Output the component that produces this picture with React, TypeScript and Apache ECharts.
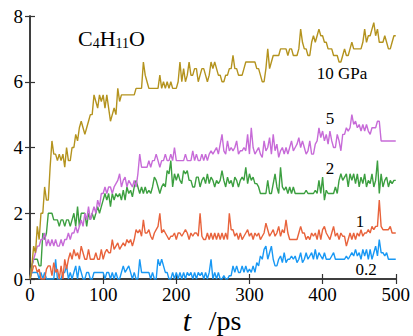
import React, { useEffect, useRef } from "react";
import * as echarts from "echarts";

const STEP_PS = 2.5;

const p10 = [
  0, 0.4, 1.0, 0.8, 1.6, 1.2, 2.0, 2.0, 2.8, 2.4,
  2.4, 3.4, 4.2, 3.8, 3.8, 3.6, 3.8, 3.6, 3.8, 3.4,
  4.0, 3.6, 3.6, 4.0, 4.0, 4.4, 4.2, 4.6, 4.8, 4.6,
  4.4, 4.6, 4.8, 5.0, 5.0, 5.6, 5.4, 5.2, 5.6, 5.4,
  5.6, 5.2, 5.6, 5.2, 4.8, 5.0, 5.2, 5.0, 5.8, 5.4,
  5.6, 5.6, 5.6, 5.6, 5.6, 5.6, 5.6, 5.6, 5.8, 5.8,
  5.8, 5.8, 6.6, 6.2, 6.0, 5.8, 5.8, 5.8, 5.8, 5.8,
  5.8, 6.2, 5.8, 6.0, 5.8, 6.0, 5.8, 6.0, 5.8, 5.8,
  5.8, 6.0, 6.6, 6.0, 6.4, 6.0, 6.2, 6.6, 6.2, 6.2,
  6.4, 6.4, 6.0, 6.2, 6.4, 6.4, 6.2, 6.0, 6.2, 6.6,
  6.4, 6.6, 6.4, 6.2, 6.2, 6.0, 6.0, 6.2, 6.2, 6.4,
  6.4, 6.8, 6.4, 6.4, 6.2, 6.2, 6.2, 6.4, 6.6, 6.6,
  6.6, 6.6, 6.6, 6.6, 6.4, 6.4, 6.2, 6.0, 6.0, 6.4,
  7.0, 6.4, 6.6, 6.8, 6.8, 6.8, 6.8, 7.0, 7.0, 7.0,
  7.0, 6.8, 7.0, 7.0, 6.8, 6.8, 6.8, 7.0, 7.6, 7.2,
  7.0, 7.0, 6.8, 6.8, 7.2, 7.4, 7.2, 7.4, 7.6, 7.4,
  7.4, 7.2, 7.2, 7.0, 7.0, 7.0, 6.8, 6.8, 6.8, 6.6,
  6.6, 6.8, 7.0, 6.8, 6.8, 7.0, 7.2, 7.0, 7.0, 7.0,
  7.0, 7.0, 7.2, 7.6, 7.2, 7.4, 7.4, 7.6, 7.8, 7.4,
  7.6, 7.2, 7.2, 7.2, 7.4, 7.2, 7.0, 7.0, 7.2, 7.4,
  7.4,
];

const p5 = [
  0, 0.4, 0.6, 0.8, 1.0, 1.0, 1.2, 1.2, 1.4, 1.0,
  1.2, 1.0, 1.2, 1.0, 1.2, 1.0, 1.0, 1.2, 1.0, 1.2,
  1.2, 1.4, 1.2, 1.4, 1.4, 1.6, 1.4, 1.6, 1.8, 1.6,
  2.0, 1.8, 2.2, 1.8, 2.0, 2.2, 2.0, 2.4, 2.2, 2.6,
  2.6, 2.8, 2.6, 2.8, 2.8, 2.6, 2.8, 2.9, 3.0, 3.2,
  2.8, 3.0, 3.1, 2.8, 3.0, 2.9, 2.8, 3.0, 2.8, 3.2,
  3.8, 3.4, 3.4, 3.4, 3.4, 3.6, 3.4, 3.6, 3.6, 3.8,
  3.6, 3.4, 3.6, 3.6, 3.8, 3.6, 3.6, 3.8, 3.6, 4.0,
  3.6, 3.6, 3.6, 3.6, 3.6, 3.8, 3.6, 3.6, 3.6, 3.9,
  3.6, 3.8, 3.6, 3.6, 3.8, 3.6, 3.8, 3.6, 3.8, 3.9,
  3.8, 3.9, 4.0, 3.8, 4.1, 4.4, 3.9, 3.8, 4.2, 3.9,
  4.0, 3.9, 4.0, 4.2, 3.8, 3.9, 3.9, 4.0, 3.9, 4.4,
  3.8, 4.6, 4.0, 3.8, 3.9, 4.0, 3.8, 3.7, 4.2, 3.9,
  4.0, 4.3, 3.8, 4.4, 3.9, 4.1, 3.7, 3.9, 4.0, 3.8,
  4.0, 3.8, 4.0, 4.2, 3.9, 4.0, 4.1, 4.3, 4.0, 4.2,
  4.0, 3.8, 3.9, 4.2, 3.8, 3.8, 4.1, 4.2, 4.6, 4.3,
  4.5, 4.2, 4.4, 4.1, 4.5, 4.2, 4.0, 4.0, 4.4, 4.2,
  3.9, 4.4, 4.4, 4.6, 4.5, 4.6, 5.0, 4.7, 4.8, 4.6,
  4.7, 4.5, 4.7, 4.5, 4.7, 4.5, 4.4, 4.6, 4.6, 4.6,
  4.8, 4.8, 4.2, 4.2, 4.2, 4.2, 4.2, 4.2, 4.2, 4.2,
  4.2,
];

const p2 = [
  0, 0.4, 0.6, 0.6, 0.6, 0.4, 0.4, 1.4, 1.2, 1.4,
  2.0, 2.0, 2.0, 1.8, 1.8, 1.8, 1.6, 1.8, 1.8, 1.6,
  1.8, 1.8, 1.6, 1.8, 2.0, 1.6, 2.2, 1.6, 2.0, 2.0,
  2.0, 1.6, 2.0, 1.8, 2.0, 1.8, 2.0, 2.2, 2.0, 2.2,
  2.4, 2.6, 2.4, 2.6, 2.2, 2.6, 2.4, 2.6, 2.5, 2.6,
  2.4, 2.7, 2.4, 2.8, 2.6, 2.7, 2.5, 2.8, 3.0, 2.8,
  2.6, 2.8, 2.6, 2.8, 2.6, 2.7, 2.6, 2.8, 3.1, 3.0,
  2.8, 2.6, 2.8, 2.9, 2.8, 3.3, 3.2, 3.6, 2.8, 3.2,
  3.0, 3.2, 3.0, 2.9, 3.3, 3.2, 3.3, 3.0, 3.0, 2.8,
  2.8, 3.1, 3.1, 2.8, 3.0, 3.1, 2.9, 3.2, 2.9, 3.1,
  3.0, 2.8, 3.0, 2.9, 3.0, 3.3, 3.0, 2.8, 3.1, 2.9,
  3.0, 2.8, 3.1, 3.0, 2.8, 3.0, 3.1, 3.0, 3.4, 2.9,
  3.2, 3.0, 3.1, 2.9, 2.9, 2.8, 2.6, 2.6, 2.6, 2.6,
  3.0, 2.6, 2.6, 2.9, 3.2, 2.8, 2.6, 3.4, 2.8, 2.7,
  2.8, 2.6, 2.8, 2.6, 2.8, 2.6, 2.6, 2.6, 2.6, 2.6,
  2.6, 2.7, 2.6, 2.6, 2.6, 2.6, 2.7, 2.6, 3.0, 2.6,
  3.1, 2.4, 2.7, 2.6, 2.6, 2.6, 2.6, 2.8, 2.6, 3.0,
  3.2, 3.0, 3.1, 3.2, 2.8, 3.2, 3.0, 3.2, 2.9, 3.2,
  2.8, 3.1, 2.9, 3.2, 2.8, 3.0, 2.9, 3.2, 2.8, 3.0,
  3.6, 2.6, 3.2, 2.8, 3.0, 3.1, 2.8, 3.0, 2.9, 3.0,
  3.0,
];

const p1 = [
  0, 0.2, 0.4, 0.4, 0.2, 0.3, 0.0, 0.0, 0.0, 0.3,
  0.4, 0.4, 0.1, 0.5, 0.2, 0.3, 0.0, 0.4, 0.0, 0.6,
  0.3, 0.6, 0.8, 0.6, 0.9, 0.7, 0.8, 0.6, 1.0, 0.8,
  0.6, 0.6, 0.9, 0.6, 0.6, 0.6, 0.8, 0.6, 0.6, 0.9,
  0.6, 0.8, 0.9, 0.8, 0.8, 1.2, 0.9, 1.0, 1.1, 0.9,
  1.0, 1.1, 1.0, 1.2, 1.1, 1.2, 1.0, 1.2, 1.5, 1.4,
  1.5, 1.3, 1.8, 1.4, 1.4, 1.5, 1.3, 1.2, 1.4, 1.5,
  1.6, 2.0, 1.4, 1.5, 1.4, 1.3, 1.2, 1.3, 1.3, 1.4,
  1.2, 1.4, 1.4, 1.3, 1.4, 1.5, 1.4, 1.2, 1.4, 1.3,
  1.4, 1.4, 1.3, 2.0, 1.3, 1.2, 1.2, 1.4, 1.2, 1.4,
  1.2, 1.4, 1.2, 1.4, 1.2, 1.4, 1.2, 1.4, 1.2, 2.0,
  1.5, 1.5, 1.3, 1.4, 1.2, 1.4, 1.2, 1.3, 1.4, 1.5,
  1.3, 1.4, 1.2, 1.4, 1.3, 1.4, 1.2, 1.3, 1.4, 1.7,
  1.5, 1.3, 1.4, 1.5, 1.3, 1.4, 1.6, 1.3, 1.5, 1.4,
  1.8, 1.4, 1.2, 1.2, 1.2, 1.2, 1.2, 1.4, 1.6, 1.4,
  1.4, 1.2, 1.3, 1.2, 1.4, 1.3, 1.4, 1.2, 1.5, 1.2,
  1.5, 1.6, 1.4, 1.3, 1.2, 1.4, 1.6, 1.3, 1.4, 1.2,
  1.4, 1.3, 1.3, 1.0, 1.2, 1.4, 1.2, 1.4, 1.2, 1.4,
  1.3, 1.5, 1.3, 1.4, 1.4, 1.5, 1.4, 1.6, 1.5, 1.6,
  1.6, 2.4, 1.6, 1.5, 1.5, 1.5, 1.5, 1.6, 1.4, 1.4,
  1.4,
];

const p02 = [
  0, 0.2, 0.2, 0.2, 0.2, 0.0, 0.2, 0.0, 0.2, 0.0,
  0.0, 0.0, 0.0, 0.0, 0.6, 0.0, 0.0, 0.0, 0.2, 0.2,
  0.4, 0.0, 0.2, 0.0, 0.2, 0.4, 0.0, 0.4, 0.2, 0.0,
  0.0, 0.2, 0.2, 0.0, 0.0, 0.2, 0.2, 0.2, 0.2, 0.2,
  0.2, 0.0, 0.2, 0.2, 0.0, 0.2, 0.0, 0.2, 0.0, 0.0,
  0.2, 0.4, 0.2, 0.3, 0.4, 0.2, 0.0, 0.2, 0.0, 0.0,
  0.6, 0.2, 0.2, 0.2, 0.2, 0.2, 0.0, 0.2, 0.0, 0.0,
  0.6, 0.4, 0.6, 0.4, 0.2, 0.2, 0.0, 0.0, 0.2, 0.0,
  0.2, 0.0, 0.2, 0.0, 0.2, 0.0, 0.2, 0.1, 0.2, 0.0,
  0.2, 0.0, 0.2, 0.1, 0.2, 0.0, 0.2, 0.0, 0.2, 0.6,
  0.0, 0.2, 0.0, 0.2, 0.0, 0.0, 0.1, 0.0, 0.0, 0.1,
  0.1, 0.4, 0.2, 0.4, 0.2, 0.2, 0.4, 0.2, 0.4, 0.2,
  0.3, 0.2, 0.4, 0.2, 0.5, 0.4, 0.7, 0.6, 0.9, 1.0,
  0.6, 0.8, 1.0, 0.6, 0.4, 0.4, 0.6, 0.7, 0.5, 0.8,
  0.5, 0.6, 0.6, 0.7, 0.6, 0.7, 0.5, 0.6, 0.8, 0.5,
  0.6, 0.8, 0.6, 0.7, 0.8, 0.6, 0.9, 0.6, 0.8, 0.7,
  0.6, 0.8, 0.6, 0.6, 0.6, 0.7, 0.8, 0.6, 0.6, 0.6,
  0.6, 0.6, 0.6, 0.7, 0.6, 0.7, 0.8, 0.7, 0.9, 0.7,
  0.8, 0.6, 0.9, 0.7, 0.9, 0.6, 0.9, 0.6, 0.8, 1.0,
  0.7, 1.2, 0.8, 0.8, 0.7, 0.8, 0.6, 0.6, 0.6, 0.6,
  0.6,
];

const seriesNames = ["10 GPa", "5", "2", "1", "0.2"];
const seriesValues = [p10, p5, p2, p1, p02];
const seriesColors = ["#b4931e", "#c76bd8", "#3c9f40", "#e8633c", "#1898f4"];

const FONT = "'Liberation Serif', 'Times New Roman', serif";

export default function App() {
  const ref = useRef<HTMLDivElement>(null);

  useEffect(() => {
    if (!ref.current) return;
    const chart = echarts.init(ref.current, null, { renderer: "svg" });

    const frameColor = "#333";
    const axisCommon = {
      min: 0,
      axisLine: { show: true, lineStyle: { color: frameColor, width: 1.5 } },
      axisTick: { show: true, inside: true, length: 5, lineStyle: { color: frameColor, width: 1.2 } },
      splitLine: { show: false },
    };

    const option = {
      animation: false,
      backgroundColor: "#ffffff",
      textStyle: { fontFamily: FONT },
      grid: { left: 30, top: 16, right: 15, bottom: 57, containLabel: false },
      xAxis: [
        {
          ...axisCommon,
          type: "value",
          max: 500,
          interval: 100,
          position: "bottom",
          axisLabel: {
            show: true,
            margin: 6,
            fontFamily: FONT,
            fontSize: 19,
            color: "#000",
          },
        },
        {
          ...axisCommon,
          type: "value",
          max: 500,
          interval: 100,
          position: "top",
          axisLabel: { show: false },
        },
      ],
      yAxis: [
        {
          ...axisCommon,
          type: "value",
          max: 8,
          interval: 2,
          position: "left",
          axisLabel: {
            show: true,
            margin: 7,
            fontFamily: FONT,
            fontSize: 19,
            color: "#000",
          },
        },
        {
          ...axisCommon,
          type: "value",
          max: 8,
          interval: 2,
          position: "right",
          axisLabel: { show: false },
        },
      ],
      series: seriesValues.map((vals, k) => ({
        name: seriesNames[k],
        type: "line",
        xAxisIndex: 0,
        yAxisIndex: 0,
        showSymbol: false,
        symbol: "none",
        z: 10 - k,
        lineStyle: { color: seriesColors[k], width: 1.4 },
        data: vals.map((v, i) => [i * STEP_PS, v]),
      })),
      graphic: [
        {
          type: "text",
          left: 78,
          top: 27,
          style: {
            text: "C{s|4}H{s|11}O",
            fontFamily: FONT,
            fontSize: 22,
            fill: "#000",
            rich: {
              s: { fontFamily: FONT, fontSize: 14, fill: "#000", verticalAlign: "bottom", padding: [10, 0, 0, 0] },
            },
          },
        },
        {
          type: "text",
          x: 342,
          y: 73,
          style: { text: "10 GPa", fontFamily: FONT, fontSize: 17, fill: "#000", align: "center", verticalAlign: "middle" },
        },
        {
          type: "text",
          x: 330,
          y: 118,
          style: { text: "5", fontFamily: FONT, fontSize: 17, fill: "#000", align: "center", verticalAlign: "middle" },
        },
        {
          type: "text",
          x: 330,
          y: 168,
          style: { text: "2", fontFamily: FONT, fontSize: 17, fill: "#000", align: "center", verticalAlign: "middle" },
        },
        {
          type: "text",
          x: 360,
          y: 221,
          style: { text: "1", fontFamily: FONT, fontSize: 17, fill: "#000", align: "center", verticalAlign: "middle" },
        },
        {
          type: "text",
          x: 366,
          y: 269,
          style: { text: "0.2", fontFamily: FONT, fontSize: 17, fill: "#000", align: "center", verticalAlign: "middle" },
        },
        {
          type: "text",
          x: 187,
          y: 320,
          style: {
            text: "t",
            fontFamily: FONT,
            fontStyle: "italic",
            fontSize: 30,
            fill: "#000",
            align: "center",
            verticalAlign: "middle",
          },
        },
        {
          type: "text",
          x: 225,
          y: 320,
          style: {
            text: "/ps",
            fontFamily: FONT,
            fontSize: 28,
            fill: "#000",
            align: "center",
            verticalAlign: "middle",
          },
        },
      ],
    };

    chart.setOption(option as any);
    return () => chart.dispose();
  }, []);

  return (
    <div
      ref={ref}
      style={{ position: "absolute", left: 0, top: 0, width: 413, height: 336 }}
    />
  );
}
